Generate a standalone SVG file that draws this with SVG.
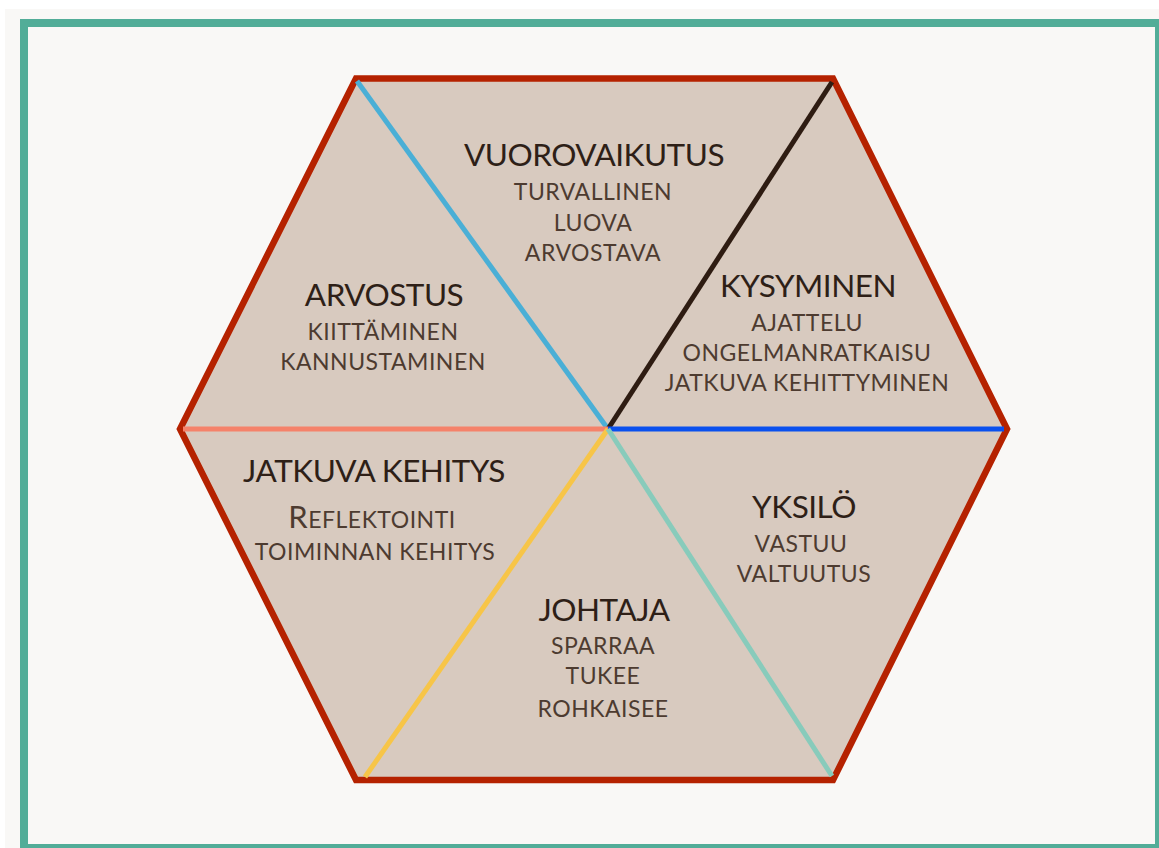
<svg xmlns="http://www.w3.org/2000/svg" width="1159" height="848" viewBox="0 0 1159 848">
<style>
.t{font-family:Lato,"Liberation Sans",sans-serif;font-size:31.5px;fill:#2e1f17;text-anchor:middle;letter-spacing:-0.5px}
.s{font-family:Lato,"Liberation Sans",sans-serif;font-size:23px;fill:#4d3b30;text-anchor:middle;letter-spacing:0.5px}
.sp{stroke-width:5;stroke-linecap:butt;fill:none}
</style>
<rect width="1159" height="848" fill="#ffffff"/>
<rect x="5" y="9" width="1154" height="839" fill="#f9f8f6"/>
<rect x="24" y="23" width="1135" height="825" fill="none" stroke="#52ad98" stroke-width="8"/>
<g id="hexagon">
<polygon points="356,78.5 833,78.5 1007,429 833,780 356,780 180,429" fill="#d8cabf" stroke="#b52200" stroke-width="6.5" stroke-linejoin="miter"/>
</g>
<g id="connectors">
<line class="sp" x1="357" y1="81" x2="608" y2="429" stroke="#4aafd6"/>
<line class="sp" x1="832" y1="82" x2="608" y2="429" stroke="#2e1c12"/>
<line class="sp" x1="608" y1="429" x2="1004" y2="429" stroke="#0a50ee"/>
<line class="sp" x1="183" y1="429" x2="608" y2="429" stroke="#f5826a"/>
<line class="sp" x1="608" y1="429" x2="365" y2="777" stroke="#f7c548"/>
<line class="sp" x1="608" y1="429" x2="832" y2="776" stroke="#88cbbb"/>
</g>
<g id="vuorovaikutus">
<text class="t" x="594" y="166">VUOROVAIKUTUS</text>
<text class="s" x="593" y="200">TURVALLINEN</text>
<text class="s" x="593" y="231">LUOVA</text>
<text class="s" x="593" y="261">ARVOSTAVA</text>
</g>
<g id="arvostus">
<text class="t" x="384" y="306">ARVOSTUS</text>
<text class="s" x="383" y="340">KIITTÄMINEN</text>
<text class="s" x="383" y="370">KANNUSTAMINEN</text>
</g>
<g id="kysyminen">
<text class="t" x="808" y="297">KYSYMINEN</text>
<text class="s" x="807" y="331">AJATTELU</text>
<text class="s" x="807" y="361">ONGELMANRATKAISU</text>
<text class="s" x="807" y="391">JATKUVA KEHITTYMINEN</text>
</g>
<g id="jatkuva-kehitys">
<text class="t" x="374" y="482">JATKUVA KEHITYS</text>
<text class="s" x="372" y="528"><tspan font-size="31">R</tspan>EFLEKTOINTI</text>
<text class="s" x="375" y="560">TOIMINNAN KEHITYS</text>
</g>
<g id="yksilo">
<text class="t" x="804" y="518">YKSILÖ</text>
<text class="s" x="801" y="552">VASTUU</text>
<text class="s" x="804" y="582">VALTUUTUS</text>
</g>
<g id="johtaja">
<text class="t" x="604" y="621">JOHTAJA</text>
<text class="s" x="603" y="654">SPARRAA</text>
<text class="s" x="603" y="684">TUKEE</text>
<text class="s" x="603" y="717">ROHKAISEE</text>
</g>
</svg>
